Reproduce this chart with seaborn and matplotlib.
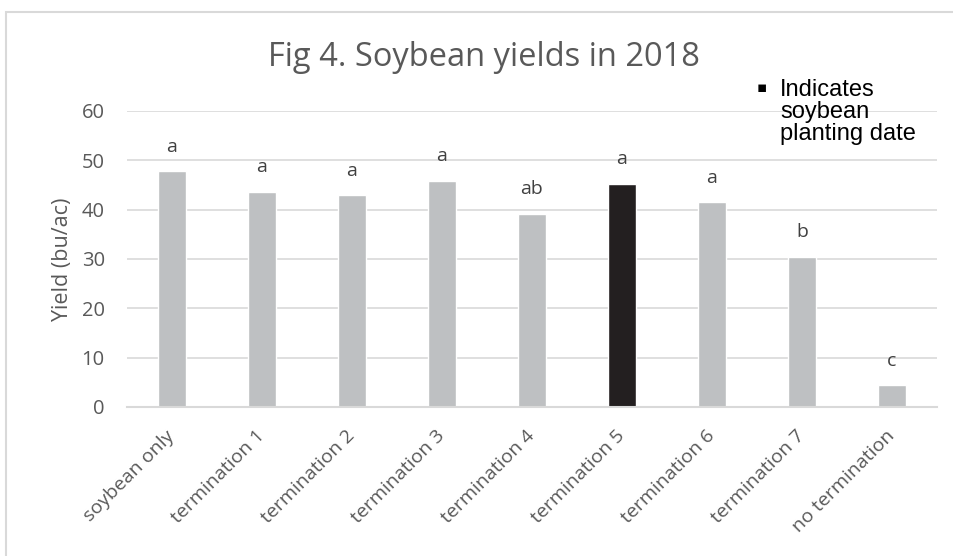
import matplotlib
matplotlib.use("Agg")
import matplotlib.pyplot as plt
import seaborn as sns
import pandas as pd
from matplotlib.patches import Rectangle

# %% Data
treatments = ["soybean only", "termination 1", "termination 2", "termination 3",
              "termination 4", "termination 5", "termination 6", "termination 7",
              "no termination"]
yields = [47.8, 43.6, 42.9, 45.9, 39.1, 45.3, 41.5, 30.4, 4.4]
letters = ["a", "a", "a", "a", "ab", "a", "a", "b", "c"]
planting_date = "termination 5"  # bar shown in black

grey = "#BEC0C2"
black = "#231F20"
txt = "#595959"

df = pd.DataFrame({"Treatment": treatments, "Yield": yields})
colors = [black if t == planting_date else grey for t in treatments]

sns.set_theme(style="white")
plt.rcParams["font.family"] = ["Open Sans", "DejaVu Sans"]

W, H = 954, 556
fig = plt.figure(figsize=(W / 100, H / 100), dpi=100)
ax = fig.add_axes([127 / W, 1 - 407 / H, (937 - 127) / W, (407 - 111) / H])

sns.barplot(data=df, x="Treatment", y="Yield", hue="Treatment", palette=colors,
            width=0.31, legend=False, saturation=1, ax=ax)

ax.set_ylim(0, 60)
ax.set_yticks(range(0, 61, 10))
ax.yaxis.grid(True, color="#D9D9D9", linewidth=1.2)
ax.set_axisbelow(True)
for s in ["top", "right", "left"]:
    ax.spines[s].set_visible(False)
ax.spines["bottom"].set_color("#D9D9D9")
ax.spines["bottom"].set_linewidth(1.5)
ax.tick_params(axis="both", length=0, labelcolor=txt)
ax.tick_params(axis="y", pad=16, labelsize=14.5)
ax.tick_params(axis="x", pad=19, labelsize=14)
ax.set_xlabel("")
ax.set_ylabel("Yield (bu/ac)", fontsize=15.5, color=txt, labelpad=6)
plt.setp(ax.get_xticklabels(), rotation=45, ha="right", va="center",
         rotation_mode="anchor")

# significance letters above each bar
for i, (v, l) in enumerate(zip(yields, letters)):
    ax.text(i, v + 5, l, ha="center", va="center", fontsize=14, color="#404040")

fig.text(484 / W, 1 - 57 / H, "Fig 4. Soybean yields in 2018", ha="center",
         va="center", fontsize=23.5, color=txt)

# note at upper right
fig.text(762 / W, 1 - 88 / H, "\u25aa", ha="center", va="center", fontsize=11,
         color="black", family="DejaVu Sans")
fig.text(780 / W, 1 - 79 / H, "Indicates\nsoybean\nplanting date", ha="left",
         va="top", fontsize=17, color="black", family="Liberation Sans",
         linespacing=1.0)

# chart border
fig.patches.append(Rectangle((6 / W, -0.1), 1.2, 1.1 - 12 / H,
                             transform=fig.transFigure, fill=False,
                             edgecolor="#D9D9D9", linewidth=1.5))

fig.savefig("out.png", dpi=100)
